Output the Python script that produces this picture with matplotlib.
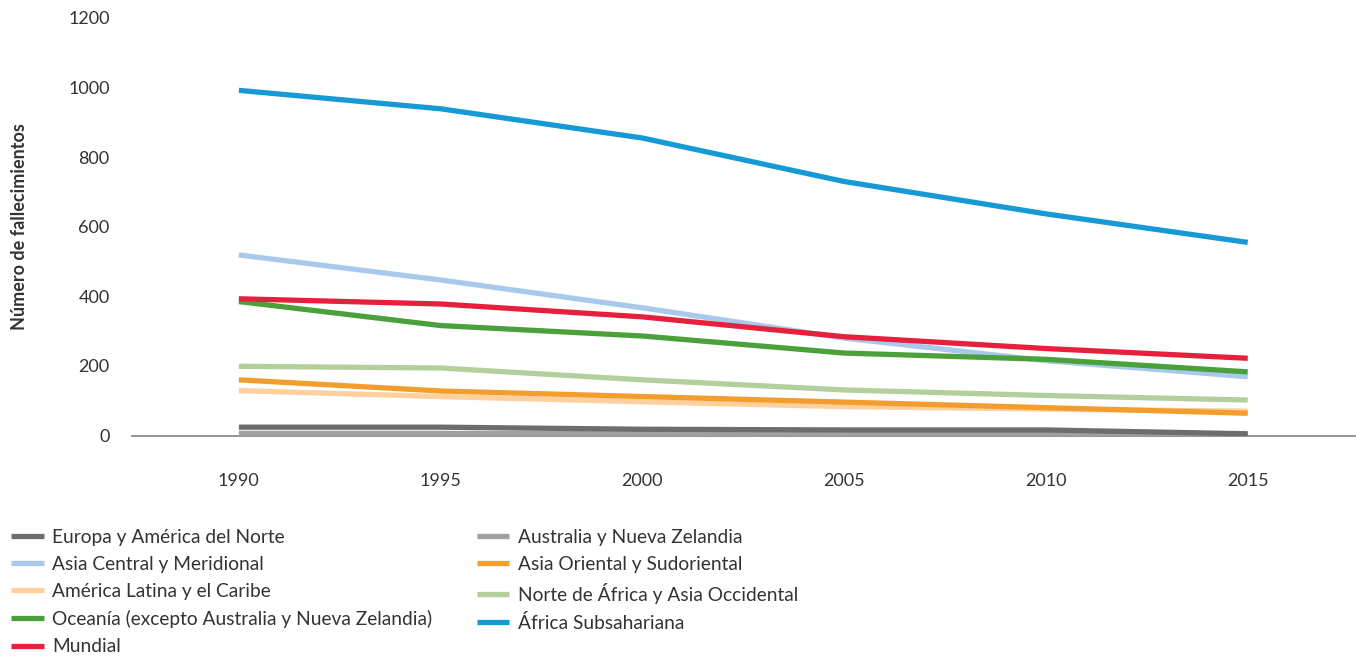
import numpy as np
import matplotlib
matplotlib.use("Agg")
import matplotlib.pyplot as plt

plt.rcParams["font.family"] = ["Lato", "DejaVu Sans"]

years = ["1990", "1995", "2000", "2005", "2010", "2015"]

europa_am_norte = [24, 24, 18, 16, 16, 5]
australia_nz = [6, 6, 6, 6, 5, 3]
asia_central_merid = [519, 447, 367, 280, 215, 169]
asia_oriental_sudor = [160, 128, 112, 96, 80, 64]
america_latina = [129, 112, 97, 83, 76, 70]
norte_africa_asia_occ = [199, 194, 160, 131, 115, 102]
oceania = [385, 316, 286, 237, 219, 183]
africa_subsahariana = [992, 939, 855, 730, 637, 555]
mundial = [393, 378, 341, 284, 250, 222]

series = [
    ("Europa y América del Norte", europa_am_norte, "#6d6d6d", 3),
    ("Australia y Nueva Zelandia", australia_nz, "#a0a0a0", 2),
    ("Asia Central y Meridional", asia_central_merid, "#a8c9ec", 4),
    ("Asia Oriental y Sudoriental", asia_oriental_sudor, "#f49d2f", 5),
    ("América Latina y el Caribe", america_latina, "#fdd09e", 4),
    ("Norte de África y Asia Occidental", norte_africa_asia_occ, "#b3cf9c", 4),
    ("Oceanía (excepto Australia y Nueva Zelandia)", oceania, "#4aa03a", 4),
    ("África Subsahariana", africa_subsahariana, "#169ad6", 6),
    ("Mundial", mundial, "#e6203c", 6),
]

fig = plt.figure(figsize=(13.56, 6.56), dpi=100)
ax = fig.add_axes([0.0973, 0.3361, 0.9017, 0.6365])

x = np.arange(len(years))
handles = {}
for name, vals, color, z in series:
    ln, = ax.plot(x, vals, color=color, lw=3.8, solid_capstyle="butt",
                  solid_joinstyle="round", zorder=z, label=name)
    handles[name] = ln

ax.set_xlim(-0.53, len(years) - 1 + 0.53)
ax.set_ylim(0, 1200)
ax.set_yticks(np.arange(0, 1201, 200))
ax.set_xticks(x)
ax.set_xticklabels(years)
ax.tick_params(axis="both", length=0, labelsize=13, labelcolor="#333333")
ax.tick_params(axis="x", pad=27)
ax.tick_params(axis="y", pad=16)
for s in ["top", "right", "left"]:
    ax.spines[s].set_visible(False)
ax.spines["bottom"].set_color("#8a8a8a")
ax.spines["bottom"].set_linewidth(1.3)
ax.spines["bottom"].set_zorder(1)

fig.text(0.0145, 0.655, "Número de fallecimientos", rotation=90, ha="center",
         va="center", fontsize=13, fontweight="bold", color="#333333")

# legend filled column-first, so reorder to read row by row
order = [0, 2, 4, 6, 8, 1, 3, 5, 7]
hs = [handles[series[i][0]] for i in order]
ls = [series[i][0] for i in order]
fig.legend(hs, ls, loc="upper left", bbox_to_anchor=(0.004, 0.203), ncol=2,
           frameon=False, fontsize=13.8, handlelength=1.7, handletextpad=0.45,
           labelspacing=0.53, columnspacing=2.3, borderaxespad=0, borderpad=0.3,
           labelcolor="#333333")

fig.savefig("out.png", dpi=100)
